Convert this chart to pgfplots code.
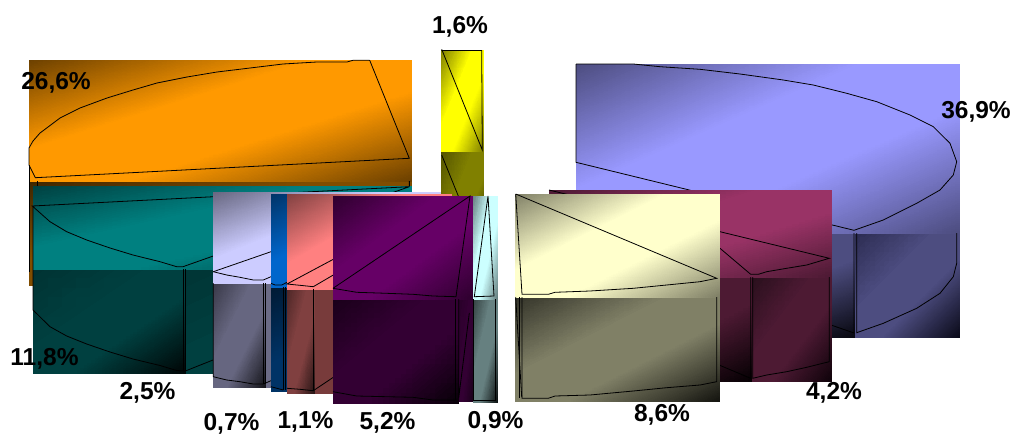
\documentclass[border=0pt]{standalone}
\usepackage{fontspec}
\setmainfont{Liberation Sans}
\usepackage{pgfplots}
\pgfplotsset{compat=1.18}
% #1..#4 rectangle x0,y0,x1,y1 ; #5 base colour ; #6 top-left corner ; #7 bottom-right corner
\newcommand{\face}[7]{%
\pgfmathsetmacro{\tx}{#1+0.74*(#3-#1)}%
\pgfmathsetmacro{\ly}{#2+0.74*(#4-#2)}%
\pgfmathsetmacro{\ry}{#4-0.74*(#4-#2)}%
\pgfmathsetmacro{\bx}{#3-0.74*(#3-#1)}%
\edef\tmpface{\noexpand\addplot[patch,shader=interp,mesh/color input=explicit,forget plot] table[row sep=\noexpand\\,meta=c]{
x y c\noexpand\\
#1 #2 #6\noexpand\\
\tx\space #2 #5\noexpand\\
#1 \ly\space #5\noexpand\\
\tx\space #2 #5\noexpand\\
#3 #2 #5\noexpand\\
#1 \ly\space #5\noexpand\\
#3 #2 #5\noexpand\\
#1 #4 #5\noexpand\\
#1 \ly\space #5\noexpand\\
#3 #2 #5\noexpand\\
#3 \ry\space #5\noexpand\\
#1 #4 #5\noexpand\\
#3 \ry\space #5\noexpand\\
\bx\space #4 #5\noexpand\\
#1 #4 #5\noexpand\\
#3 \ry\space #5\noexpand\\
#3 #4 #7\noexpand\\
\bx\space #4 #5\noexpand\\
};}\tmpface}
\newcommand{\edge}[1]{\addplot[black,line width=0.8pt,forget plot] coordinates {#1};}
\newcommand{\lab}[3]{\node[font=\fontsize{24.5}{26}\selectfont\bfseries,text=black,inner sep=0pt] at (axis cs:#1,#2) {#3};}
\begin{document}
\begin{tikzpicture}
\clip (0,0) rectangle (1012pt,434pt);
\begin{axis}[at={(0,0)},anchor=south west,width=1012pt,height=434pt,scale only axis,
  xmin=0,xmax=1012,ymin=0,ymax=434,y dir=reverse,hide axis,clip=false]
% orange 26,6%
\face{29}{181}{412}{285}{.5,.3,0}{.25,.15,0}{.12,.07,0}
\face{29}{60}{412}{181}{1,.6,0}{.42,.25,0}{.42,.25,0}
\edge{(369.7,60.3)(409.3,158.3)(35.3,177.7)(29,165)(29,148)(33,141)(40,133)(60,118)(80,108)(107,98)(133,90)(157,83)(187,77)(217,72)(250,68)(283,64)(317,62)(347,62)(353,60.3)(369.7,60.3)}
\edge{(29,165)(29,272)}
\edge{(37.3,181)(37.3,186)}
\edge{(409.3,181)(409.3,186)}
% periwinkle 36,9%
\face{576}{233}{855}{337}{.3,.3,.5}{.15,.15,.28}{.03,.03,.06}
\face{855}{233}{959}{337}{.3,.3,.5}{.17,.17,.32}{.04,.04,.1}
\face{576}{64}{959}{233}{.6,.6,1}{.3,.3,.5}{.3,.3,.5}
\edge{(576,64)(576,162.3)(854,230.3)(883.3,220)(916.7,203.3)(940,190)(953.3,175)(956.7,161.7)(950,143.3)(933.3,126.7)(910,115)(876.7,101.7)(846.7,93.3)(813.3,85)(783.3,80)(740,74)(700,69.3)(660,66.7)(633.3,64)(576,64)}
\edge{(854,233)(854,333)(831,325)}
\edge{(856.7,233)(856.7,332.7)(883.3,323.3)(916.7,308.3)(940,293.3)(953.3,276.7)(956.7,263.3)(956.7,233)}
% yellow 1,6%
\face{441.5}{151}{483}{255}{.5,.5,0}{.33,.33,0}{.1,.1,0}
\face{441.5}{50}{483}{151}{1,1,0}{.5,.5,0}{.5,.5,0}
\edge{(441.7,49.3)(441.7,50.5)(481.7,50.5)(482.3,150)(441.7,49.3)}
\edge{(441.7,155)(458.3,196)}
% teal 11,8%
\face{185}{269}{411}{373}{0,.25,.25}{0,.21,.21}{0,.21,.21}
\face{33}{269}{186}{373}{0,.25,.25}{0,.2,.2}{0,.02,.02}
\face{33}{186}{411}{269}{0,.5,.5}{0,.25,.25}{0,.25,.25}
\edge{(409.3,186.7)(32.3,206)(50,221.7)(66.7,231.7)(86.7,240)(110,248)(133,255)(160,261.7)(176.7,266.7)(183,266.7)(409.3,186.7)(409.3,181)}
\edge{(33,207)(33,310)(50,326.7)(66.7,336)(86.7,344)(110,352)(133,359)(160,365.5)(176.7,370.5)(185.3,371)(213,360)}
\edge{(183.5,269)(183.5,371)}
\edge{(185.5,269)(185.5,371)}
% lavender 0,7%
\face{265}{283}{440}{387}{.42,.42,.52}{.42,.42,.52}{.42,.42,.52}
\face{213}{283}{265}{387}{.4,.4,.5}{.22,.22,.28}{.08,.08,.1}
\face{213}{192}{440}{283}{.8,.8,1}{.4,.4,.5}{.4,.4,.5}
\edge{(213.3,271.7)(226.7,275)(240,277.3)(253.3,280)(263.3,280)(271,276.7)}
\edge{(213.3,271.7)(271,251.7)}
\edge{(213.3,283)(213.3,376.7)(226.7,380)(240,381.7)(253.3,384)(263.3,384)(271,380.7)}
\edge{(263.3,283)(263.3,384)}
\edge{(265.3,283)(265.3,384)}
% blue
\face{271}{287}{440}{391}{0,.2,.4}{0,.1,.2}{0,.03,.06}
\face{271}{194}{440}{287}{0,.4,.8}{0,.2,.4}{0,.2,.4}
\edge{(271,283.3)(275,285)(281.7,285)(287,282.3)}
\edge{(271,386.7)(283.3,390)}
\edge{(283.3,287)(283.3,390)}
\edge{(285.3,287)(285.3,390)}
% pink
\face{313}{289}{451}{393}{.47,.23,.23}{.47,.23,.23}{.47,.23,.23}
\face{287}{289}{314}{393}{.5,.25,.25}{.3,.15,.15}{.15,.08,.08}
\face{287}{194}{451}{289}{1,.5,.5}{.5,.25,.25}{.5,.25,.25}
\edge{(333.3,259.3)(287,284)(300,285.3)(313.3,286.7)(333.3,275)}
\edge{(287,388.3)(300,389.3)(313.3,390.7)(333.3,377.3)}
\edge{(313.3,289)(313.3,390.7)}
% purple 5,2%
\face{458}{299}{473}{401}{.2,0,.2}{.16,0,.16}{.1,0,.1}
\face{333}{299}{458}{403}{.2,0,.2}{.1,0,.1}{.03,0,.03}
\face{333}{196}{473}{299}{.4,0,.4}{.18,0,.18}{.18,0,.18}
\edge{(333,288.3)(470,196)(456,296.7)(433,296)(413,294.3)(386.7,293.3)(356.7,292.3)(333,288.3)}
\edge{(333,391.7)(356.7,396)(386.7,396.7)(413,397.3)(433,400)(456.7,400)}
\edge{(455.5,299)(455.5,400)}
\edge{(458.7,299)(458.7,398)(469.3,313)}
% pale cyan 0,9%
\face{473}{299}{497}{402}{.4,.5,.5}{.2,.25,.25}{.05,.07,.07}
\face{473}{196}{497}{299}{.8,1,1}{.4,.5,.5}{.4,.5,.5}
\edge{(488,196)(474.3,296.7)(494,296)(488,196)}
\edge{(473.7,299)(473.7,400)(495,400)(495,299)}
% maroon 4,2%
\face{549}{277}{752}{381}{.3,.1,.2}{.15,.05,.1}{.02,.0,.01}
\face{752}{277}{831}{381}{.3,.1,.2}{.16,.06,.11}{.06,.01,.04}
\face{549}{190}{831}{277}{.6,.2,.4}{.3,.1,.2}{.3,.1,.2}
\edge{(549,190)(720,231.7)(829.3,258.3)(806.7,265)(786.7,268.3)(766.7,271.7)(758.3,274.3)(750.7,274.3)(720,248.3)}
\edge{(750.7,277)(750.7,378.3)(719,365)}
\edge{(752.7,277)(752.7,378.3)(766.7,375)(786.7,371.7)(806.7,367.3)(829.3,361.7)(829.3,277)}
% cream 8,6%
\face{515}{297}{719}{401}{.5,.5,.4}{.2,.2,.16}{.08,.08,.06}
\face{515}{194}{719}{297}{1,1,.8}{.5,.5,.4}{.5,.5,.4}
\edge{(515.7,194)(716.7,278.3)(700,281.7)(666.7,285)(633.3,288.3)(590,291)(555,292.3)(548.3,294.3)(522,294.3)(515.7,194)}
\edge{(515.7,297)(521.7,397)}
\edge{(519,297)(519,398)}
\edge{(522,297)(522,398.3)(548.3,398.3)(555,396)(590,395)(633.3,391)(666.7,387.7)(700,385)(716.7,381.7)(716.7,297)}
% labels
\lab{56}{83}{26,6\%}
\lab{460}{27}{1,6\%}
\lab{976}{112}{36,9\%}
\lab{44.5}{359}{11,8\%}
\lab{147.5}{393}{2,5\%}
\lab{231.5}{424}{0,7\%}
\lab{305.5}{422}{1,1\%}
\lab{387.5}{422.5}{5,2\%}
\lab{495.5}{422}{0,9\%}
\lab{662}{415}{8,6\%}
\lab{834}{393}{4,2\%}
\end{axis}
\end{tikzpicture}
\end{document}
